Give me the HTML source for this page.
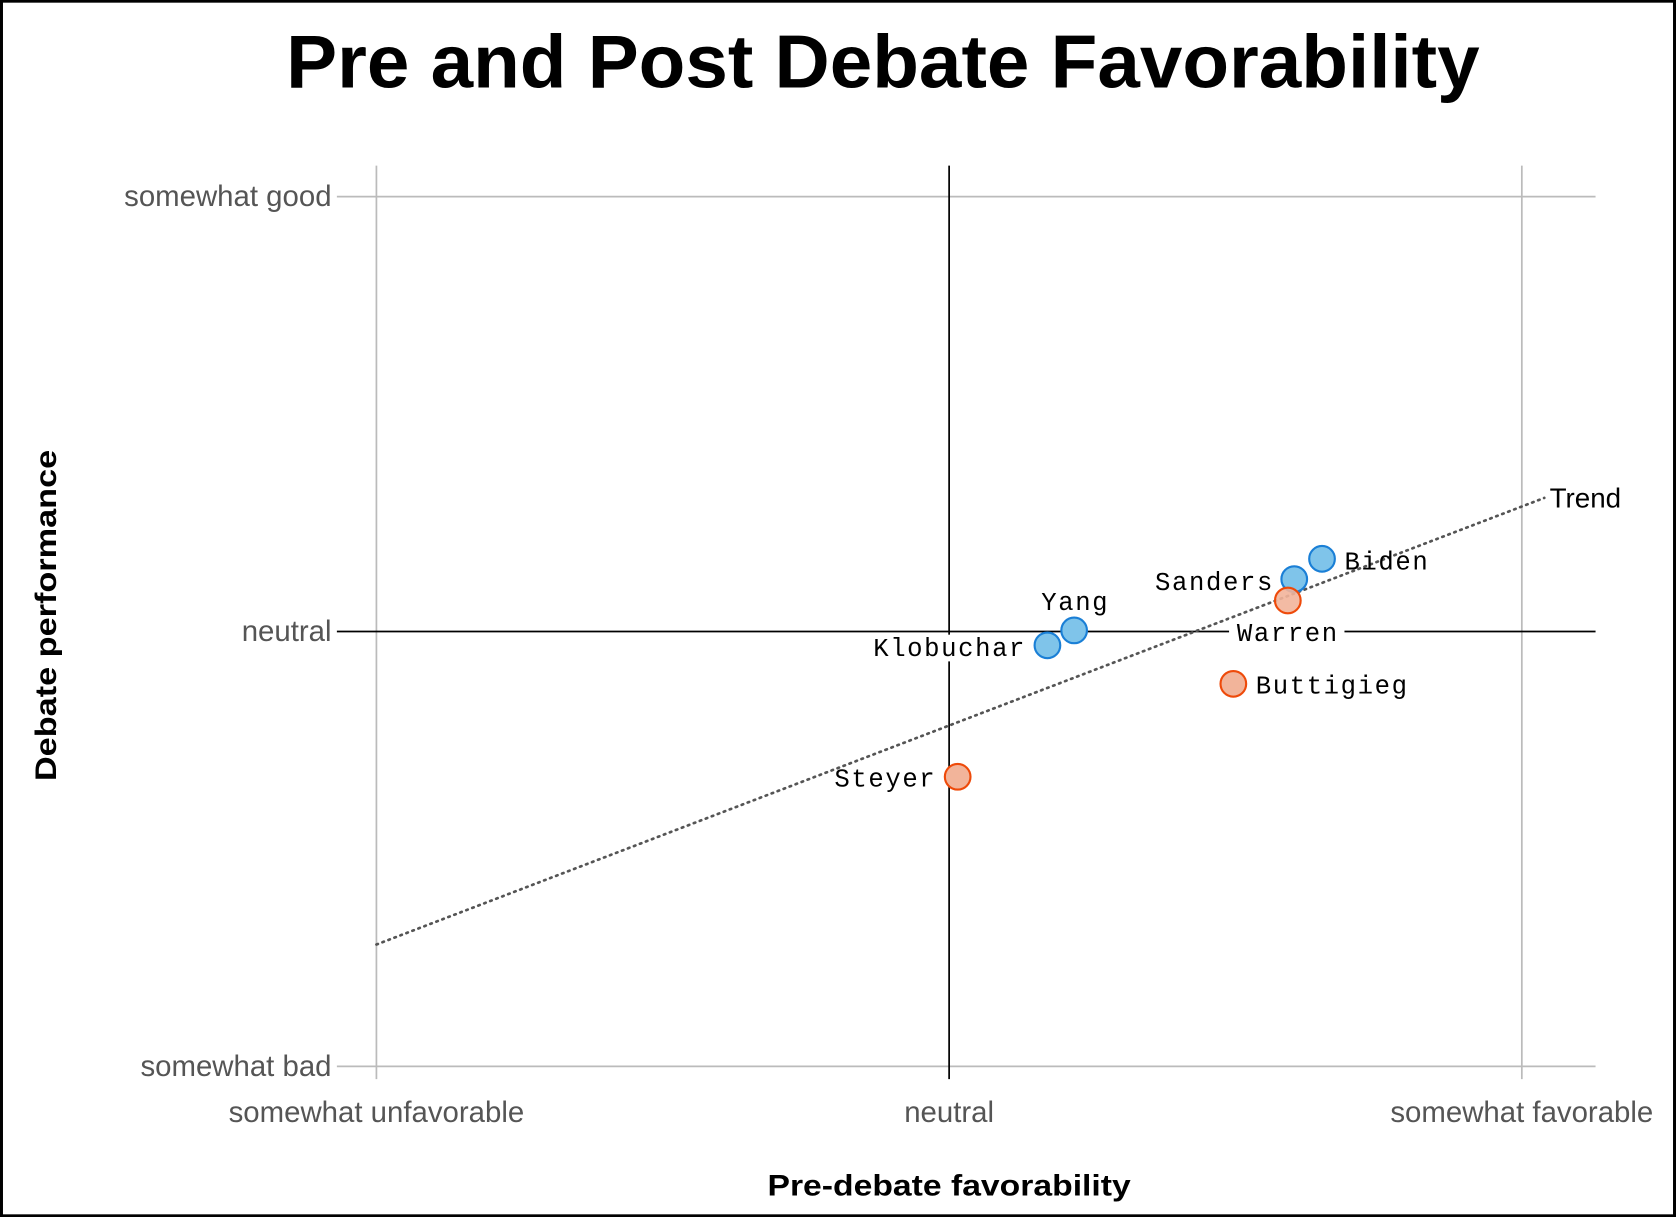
<!DOCTYPE html>
<html><head><meta charset="utf-8"><style>
html,body{margin:0;padding:0;background:#fff;}
svg{display:block;}
</style></head><body>
<svg width="1676" height="1217" viewBox="0 0 1568 1139" xmlns="http://www.w3.org/2000/svg">
<rect x="1" y="1" width="1566" height="1137" fill="#fff" stroke="#000" stroke-width="3"/>
<text x="826" y="82" text-anchor="middle" font-family="Liberation Sans, sans-serif" font-weight="bold" font-size="70" textLength="1117" lengthAdjust="spacingAndGlyphs" fill="#000">Pre and Post Debate Favorability</text>
<g stroke="#bbb" stroke-width="1.6">
<line x1="352" y1="155" x2="352" y2="1010"/>
<line x1="1424" y1="155" x2="1424" y2="1010"/>
<line x1="315" y1="184" x2="1493" y2="184"/>
<line x1="315" y1="998" x2="1493" y2="998"/>
</g>
<g stroke="#000" stroke-width="1.6">
<line x1="888" y1="155" x2="888" y2="1010"/>
<line x1="315" y1="591" x2="1493" y2="591"/>
</g>
<g font-family="Liberation Sans, sans-serif" font-size="27.5" fill="#555">
<text x="310" y="193" text-anchor="end">somewhat good</text>
<text x="310" y="600" text-anchor="end">neutral</text>
<text x="310" y="1007" text-anchor="end">somewhat bad</text>
<text x="352" y="1050" text-anchor="middle">somewhat unfavorable</text>
<text x="888" y="1050" text-anchor="middle">neutral</text>
<text x="1424" y="1050" text-anchor="middle">somewhat favorable</text>
</g>
<text x="888" y="1119" text-anchor="middle" font-family="Liberation Sans, sans-serif" font-weight="bold" font-size="28" textLength="340" lengthAdjust="spacingAndGlyphs">Pre-debate favorability</text>
<text transform="translate(52,576) rotate(-90)" text-anchor="middle" font-family="Liberation Sans, sans-serif" font-weight="bold" font-size="28" textLength="310" lengthAdjust="spacingAndGlyphs">Debate performance</text>
<line x1="352" y1="884" x2="1445" y2="466" stroke="#555" stroke-width="2.5" stroke-dasharray="1.5,4.5" stroke-linecap="round"/>
<text x="1450" y="475" font-family="Liberation Sans, sans-serif" font-size="26" fill="#000">Trend</text>
<rect x="1150" y="579" width="108" height="25" fill="#fff"/>
<rect x="818" y="594" width="146" height="25" fill="#fff"/>
<g stroke-width="2">
<circle cx="1237" cy="523" r="12" fill="#7fc4ea" stroke="#1a7fd6"/>
<circle cx="1211" cy="542" r="12" fill="#7fc4ea" stroke="#1a7fd6"/>
<circle cx="1205" cy="562" r="12" fill="#f2b49a" stroke="#ee4a0a" fill-opacity="0.9"/>
<circle cx="1005" cy="590" r="12" fill="#7fc4ea" stroke="#1a7fd6"/>
<circle cx="980" cy="604" r="12" fill="#7fc4ea" stroke="#1a7fd6"/>
<circle cx="1154" cy="640" r="12" fill="#f2b49a" stroke="#ee4a0a"/>
<circle cx="896" cy="727" r="12" fill="#f2b49a" stroke="#ee4a0a"/>
</g>
<g font-family="Liberation Mono, monospace" font-size="24" letter-spacing="1.5" fill="#000">
<text x="1258" y="533">Biden</text>
<text x="1192" y="552" text-anchor="end">Sanders</text>
<text x="1006" y="571" text-anchor="middle">Yang</text>
<text x="960" y="614" text-anchor="end">Klobuchar</text>
<text x="1205" y="600" text-anchor="middle">Warren</text>
<text x="1175" y="649">Buttigieg</text>
<text x="876" y="736" text-anchor="end">Steyer</text>
</g>
</svg>
</body></html>
